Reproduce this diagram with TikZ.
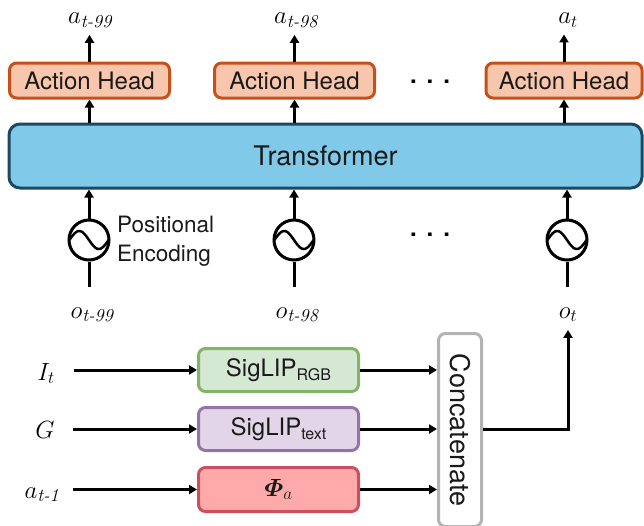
\documentclass[tikz,border=0pt]{standalone}
\usepackage{amsmath}
\usepackage{fontspec}
\setsansfont{TeX Gyre Heros}
\usetikzlibrary{arrows.meta}

\definecolor{headfill}{HTML}{F7C6AC}
\definecolor{headline}{HTML}{C5501A}
\definecolor{transfill}{HTML}{81C9E9}
\definecolor{transline}{HTML}{1B4862}
\definecolor{rgbfill}{HTML}{D5E8D4}
\definecolor{rgbline}{HTML}{82B366}
\definecolor{txtfill}{HTML}{E1D5E7}
\definecolor{txtline}{HTML}{9673A6}
\definecolor{phifill}{HTML}{FFAAAA}
\definecolor{philine}{HTML}{C8505F}
\definecolor{catline}{HTML}{B3B3B3}
\definecolor{ink}{HTML}{1A1A1A}

\newcommand{\sfsize}[1]{\sffamily\fontsize{#1}{#1}\selectfont}

\begin{document}
\begin{tikzpicture}[x=1pt,y=-1pt,
  wire/.style={line width=3pt,draw=black},
  arr/.style={wire,-{Triangle[length=8pt,width=9pt]}},
  box/.style={draw,line width=3pt,inner sep=0pt,rounded corners=7pt,text=ink},
  headbox/.style={box,fill=headfill,draw=headline,minimum height=35pt,font=\sfsize{24}},
  encbox/.style={box,minimum width=160pt,minimum height=43pt,font=\sfsize{24}},
  mathlbl/.style={inner sep=1pt,font=\fontsize{26}{30}\selectfont,anchor=base},
  pecirc/.style={circle,draw,line width=3pt,minimum size=40pt,inner sep=0pt},
  dotsnode/.style={font=\sfsize{24}\bfseries,inner sep=0pt,anchor=base}
]
\useasboundingbox (0,0) rectangle (644,525);

% ---- action heads ----
\node[headbox,minimum width=160pt] (head1) at (89.5,80.5) {Action Head};
\node[headbox,minimum width=160pt] (head2) at (294.5,80.5) {Action Head};
\node[headbox,minimum width=156pt] (head3) at (564,80.5) {Action Head};
\node[dotsnode] (hdots) at (430,83) {.\hspace{10pt}.\hspace{10pt}.};

% ---- transformer ----
\node[box,fill=transfill,draw=transline,rounded corners=11pt,
      minimum width=633pt,minimum height=64pt,font=\sfsize{27}] (trans) at (325.5,156) {Transformer};

% ---- output actions ----
\node[mathlbl] (a1) at (90,23.5) {$a_{\textit{t-99}}$};
\node[mathlbl] (a2) at (296,23.5) {$a_{\textit{t-98}}$};
\node[mathlbl] (a3) at (568,23.5) {$a_{t}$};

\foreach \i in {1,2,3}{
  \draw[arr,shorten >=6pt] (head\i.north) -- (head\i.north |- a\i.south);
  \draw[arr] (trans.north -| head\i) -- (head\i.south);
}

% ---- positional encodings ----
\node[pecirc] (pe1) at (89,240) {};
\node[pecirc] (pe2) at (294,240) {};
\node[pecirc] (pe3) at (567,240) {};
\foreach \i in {1,2,3}{
  \draw[line width=2.5pt,shift={(pe\i.center)}]
    plot[domain=-19.5:19.5,samples=40,smooth] (\x,{9*sin(9.2*\x)});
}
\node[anchor=west,align=left,inner sep=0pt,font=\sfsize{22.5},text=ink] (petext) at (117,241)
  {Positional\\[6pt]Encoding};
\node[dotsnode] (pdots) at (430,236) {.\hspace{10pt}.\hspace{10pt}.};

% ---- observations ----
\node[mathlbl] (o1) at (92,318) {$o_{\textit{t-99}}$};
\node[mathlbl] (o2) at (297,318) {$o_{\textit{t-98}}$};
\node[mathlbl] (o3) at (568,318) {$o_{t}$};

\coordinate (b1) at (89,287);
\coordinate (b2) at (294,287);
\coordinate (b3) at (567,287);
\foreach \i in {1,2,3}{
  \draw[wire] (b\i) -- (pe\i.south);
  \draw[arr] (pe\i.north) -- (pe\i.north |- trans.south);
}

% ---- encoders ----
\node[encbox,fill=rgbfill,draw=rgbline] (rgb) at (278.5,370)
  {SigLIP\raisebox{-4pt}{\fontsize{16}{16}\selectfont RGB}};
\node[encbox,fill=txtfill,draw=txtline] (txt) at (278.5,429)
  {SigLIP\raisebox{-4pt}{\fontsize{16}{16}\selectfont text}};
\node[encbox,fill=phifill,draw=philine,minimum height=44pt,font=\fontsize{26}{30}\selectfont] (phi) at (278.5,489.5)
  {$\boldsymbol{\varPhi}_a$};

% ---- inputs ----
\node[mathlbl] (It) at (46,380) {$I_t$};
\node[mathlbl] (G) at (45,438) {$G$};
\node[mathlbl] (aprev) at (42,498) {$a_{\textit{t-1}}$};
\coordinate (in1) at (74,370);
\coordinate (in2) at (73,429);
\coordinate (in3) at (73,489.5);
\draw[arr] (in1) -- (rgb.west);
\draw[arr] (in2) -- (txt.west);
\draw[arr] (in3) -- (phi.west);

% ---- concatenation ----
\node[box,fill=white,draw=catline,minimum width=43pt,minimum height=193pt] (cat) at (460,430) {};
\node[rotate=-90,font=\sfsize{27},text=ink,inner sep=0pt] (cattext) at (cat.center) {Concatenate};
\draw[arr] (rgb.east) -- (rgb.east -| cat.west);
\draw[arr] (txt.east) -- (txt.east -| cat.west);
\draw[arr] (phi.east) -- (phi.east -| cat.west);
\draw[arr,shorten >=7pt] (txt.east -| cat.east) -| (o3.south);

\end{tikzpicture}
\end{document}
